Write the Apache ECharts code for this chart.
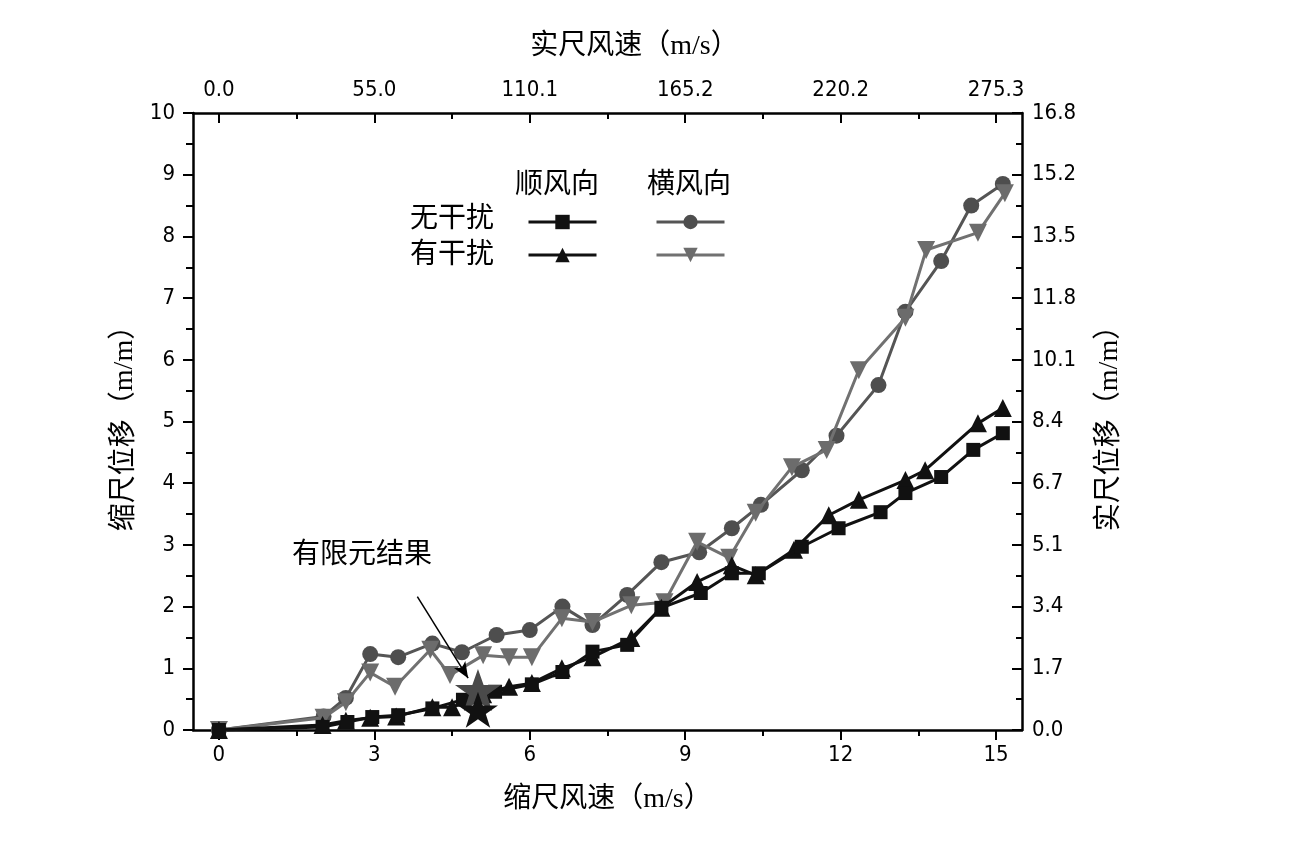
<!DOCTYPE html>
<html>
<head>
<meta charset="utf-8">
<script src="https://cdn.jsdelivr.net/npm/echarts@6/dist/echarts.min.js"></script>
<style>
html,body{margin:0;padding:0;background:#fff;}
#chart{width:1296px;height:846px;}
</style>
</head>
<body>
<div id="chart"></div>
<script>
// ---- data ----
var bottomMajorTicks = [0, 3, 6, 9, 12, 15];
var bottomMinorTicks = [1.5, 4.5, 7.5, 10.5, 13.5];
var topTickLabels = ['0.0', '55.0', '110.1', '165.2', '220.2', '275.3'];
var rightTickLabels = ['0.0', '1.7', '3.4', '5.1', '6.7', '8.4', '10.1', '11.8', '13.5', '15.2', '16.8'];

// 顺风向 无干扰 (squares)
var downNoX = [0, 2.0, 2.48, 2.96, 3.46, 4.12, 4.71, 5.33, 6.04, 6.63, 7.21, 7.88, 8.54, 9.3, 9.9, 10.42, 11.25, 11.96, 12.77, 13.25, 13.94, 14.56, 15.13];
var downNoY = [0, 0.05, 0.13, 0.21, 0.24, 0.35, 0.49, 0.62, 0.74, 0.94, 1.27, 1.38, 1.98, 2.22, 2.54, 2.54, 2.97, 3.27, 3.53, 3.84, 4.10, 4.54, 4.81];
// 顺风向 有干扰 (triangles)
var downYesX = [0, 2.0, 2.45, 2.92, 3.42, 4.12, 4.5, 5.1, 5.6, 6.04, 6.62, 7.21, 7.96, 8.54, 9.23, 9.9, 10.36, 11.1, 11.77, 12.35, 13.25, 13.63, 14.65, 15.13];
var downYesY = [0, 0.08, 0.15, 0.2, 0.22, 0.37, 0.37, 0.58, 0.70, 0.76, 1.0, 1.18, 1.49, 1.98, 2.4, 2.67, 2.51, 2.92, 3.48, 3.73, 4.05, 4.21, 4.97, 5.22];
// 横风向 无干扰 (circles)
var crossNoX = [0, 2.02, 2.45, 2.92, 3.46, 4.12, 4.69, 5.36, 6.0, 6.63, 7.21, 7.88, 8.54, 9.27, 9.9, 10.46, 11.25, 11.92, 12.73, 13.25, 13.94, 14.52, 15.13];
var crossNoY = [0, 0.22, 0.52, 1.23, 1.18, 1.40, 1.26, 1.54, 1.62, 2.0, 1.70, 2.19, 2.72, 2.88, 3.27, 3.65, 4.21, 4.77, 5.59, 6.78, 7.6, 8.5, 8.85];
// 横风向 有干扰 (down triangles)
var crossYesX = [0, 2.02, 2.45, 2.92, 3.4, 4.08, 4.46, 5.1, 5.6, 6.04, 6.62, 7.21, 7.96, 8.6, 9.23, 9.85, 10.36, 11.06, 11.73, 12.35, 13.25, 13.65, 14.65, 15.17];
var crossYesY = [0, 0.2, 0.45, 0.93, 0.70, 1.30, 0.89, 1.21, 1.18, 1.18, 1.81, 1.75, 2.02, 2.07, 3.05, 2.79, 3.52, 4.26, 4.54, 5.83, 6.68, 7.78, 8.06, 8.70];
// 有限元结果 (stars)
var feX = [5.0];
var feDownY = [0.33];
var feCrossY = [0.65];
// annotation arrow (data coords)
var arrowStart = [3.83, 2.16];
var arrowEnd = [4.81, 0.84];

function pairs(xs, ys) { return xs.map(function (x, i) { return [x, ys[i]]; }); }

var NUM_FONT = '"DejaVu Sans Condensed", "Liberation Sans Narrow", "Liberation Sans", sans-serif';
var CJK_FONT = '"Liberation Serif", "Noto Sans CJK SC", serif';
var STAR = 'path://M50,0 L61.8,35.1 L98.1,35.1 L68.8,56.7 L79.4,91 L50,70 L20.6,91 L31.2,56.7 L1.9,35.1 L38.2,35.1 Z';

var BLACK = '#111111';
var GRAY1 = '#4e4e4e';
var GRAY2 = '#6c6c6c';

var chart = echarts.init(document.getElementById('chart'), null, { renderer: 'canvas' });

var axisLineStyle = { color: '#000', width: 2.5 };

function legendItem(name, left, top) {
  return {
    data: [name], left: left, top: top, itemWidth: 68, itemHeight: 18, padding: 0,
    selectedMode: false, lineStyle: { width: 3 }, formatter: function () { return ''; }
  };
}

var option = {
  backgroundColor: '#fff',
  animation: false,
  grid: { left: 193, right: 274, top: 113, bottom: 116, containLabel: false },
  xAxis: [
    {
      type: 'value', position: 'bottom', min: -0.5, max: 15.5,
      axisLine: { show: true, onZero: false, lineStyle: axisLineStyle },
      axisTick: { show: true, inside: false, length: 10, lineStyle: { color: '#000', width: 2 }, customValues: bottomMajorTicks },
      axisLabel: { show: true, customValues: bottomMajorTicks, margin: 14, color: '#000', fontSize: 22, fontFamily: NUM_FONT },
      splitLine: { show: false },
      name: '缩尺风速（m/s）', nameLocation: 'middle', nameGap: 56,
      nameTextStyle: { fontSize: 28, color: '#000', fontFamily: CJK_FONT }
    },
    {
      type: 'value', position: 'bottom', min: -0.5, max: 15.5,
      axisLine: { show: false, onZero: false },
      axisTick: { show: true, inside: false, length: 6, lineStyle: { color: '#000', width: 2 }, customValues: bottomMinorTicks },
      axisLabel: { show: false },
      splitLine: { show: false }
    },
    {
      type: 'value', position: 'top', min: -0.5, max: 15.5,
      axisLine: { show: true, onZero: false, lineStyle: axisLineStyle },
      axisTick: { show: true, inside: true, length: 10, lineStyle: { color: '#000', width: 2 }, customValues: bottomMajorTicks },
      axisLabel: {
        show: true, customValues: bottomMajorTicks, margin: 12, color: '#000', fontSize: 22, fontFamily: NUM_FONT,
        formatter: function (v) { return topTickLabels[Math.round(v / 3)]; }
      },
      splitLine: { show: false },
      name: '实尺风速（m/s）', nameLocation: 'middle', nameGap: 52,
      nameTextStyle: { fontSize: 28, color: '#000', fontFamily: CJK_FONT, padding: [0, 0, 0, 54] }
    },
    {
      type: 'value', position: 'top', min: -0.5, max: 15.5,
      axisLine: { show: false, onZero: false },
      axisTick: { show: true, inside: true, length: 6, lineStyle: { color: '#000', width: 2 }, customValues: bottomMinorTicks },
      axisLabel: { show: false },
      splitLine: { show: false }
    }
  ],
  yAxis: [
    {
      type: 'value', position: 'left', min: 0, max: 10, interval: 1,
      axisLine: { show: true, onZero: false, lineStyle: axisLineStyle },
      axisTick: { show: true, inside: false, length: 10, lineStyle: { color: '#000', width: 2 } },
      minorTick: { show: true, splitNumber: 2, length: 7, lineStyle: { color: '#000', width: 2 } },
      axisLabel: { show: true, margin: 18, color: '#000', fontSize: 22, fontFamily: NUM_FONT },
      splitLine: { show: false },
      name: '缩尺位移（m/m）', nameLocation: 'middle', nameGap: 54, nameRotate: 90,
      nameTextStyle: { fontSize: 28, color: '#000', fontFamily: CJK_FONT }
    },
    {
      type: 'value', position: 'right', min: 0, max: 10, interval: 1,
      axisLine: { show: true, onZero: false, lineStyle: axisLineStyle },
      axisTick: { show: true, inside: true, length: 10, lineStyle: { color: '#000', width: 2 } },
      minorTick: { show: true, splitNumber: 2, length: 6, lineStyle: { color: '#000', width: 2 } },
      axisLabel: {
        show: true, margin: 10, color: '#000', fontSize: 22, fontFamily: NUM_FONT,
        formatter: function (v) { return rightTickLabels[Math.round(v)]; }
      },
      splitLine: { show: false },
      name: '实尺位移（m/m）', nameLocation: 'middle', nameGap: 74, nameRotate: 90,
      nameTextStyle: { fontSize: 28, color: '#000', fontFamily: CJK_FONT }
    }
  ],
  legend: [
    legendItem('顺风向-无干扰', 527, 213),
    legendItem('顺风向-有干扰', 527, 246),
    legendItem('横风向-无干扰', 655, 213),
    legendItem('横风向-有干扰', 655, 246)
  ],
  graphic: [
    { type: 'text', left: 515, top: 168, style: { text: '顺风向', font: '28px "Noto Sans CJK SC"', fill: '#000' } },
    { type: 'text', left: 647, top: 168, style: { text: '横风向', font: '28px "Noto Sans CJK SC"', fill: '#000' } },
    { type: 'text', left: 410, top: 202, style: { text: '无干扰', font: '28px "Noto Sans CJK SC"', fill: '#000' } },
    { type: 'text', left: 410, top: 238, style: { text: '有干扰', font: '28px "Noto Sans CJK SC"', fill: '#000' } },
    { type: 'text', left: 292, top: 538, style: { text: '有限元结果', font: '28px "Noto Sans CJK SC"', fill: '#000' } }
  ],
  series: [
    {
      name: '横风向-无干扰', type: 'line', data: pairs(crossNoX, crossNoY),
      symbol: 'circle', symbolSize: 16,
      lineStyle: { color: '#555555', width: 3 }, itemStyle: { color: GRAY1 }, z: 2
    },
    {
      name: '横风向-有干扰', type: 'line', data: pairs(crossYesX, crossYesY),
      symbol: 'triangle', symbolRotate: 180, symbolSize: 18,
      lineStyle: { color: '#717171', width: 3 }, itemStyle: { color: GRAY2 }, z: 3
    },
    {
      name: '顺风向-有干扰', type: 'line', data: pairs(downYesX, downYesY),
      symbol: 'triangle', symbolSize: 18,
      lineStyle: { color: BLACK, width: 3 }, itemStyle: { color: BLACK }, z: 4
    },
    {
      name: '顺风向-无干扰', type: 'line', data: pairs(downNoX, downNoY),
      symbol: 'rect', symbolSize: 14,
      lineStyle: { color: BLACK, width: 3 }, itemStyle: { color: BLACK }, z: 5
    },
    {
      name: '有限元-横风向', type: 'scatter', data: pairs(feX, feCrossY),
      symbol: STAR, symbolSize: [46, 42], itemStyle: { color: '#4a4a4a', opacity: 1 }, zlevel: 1, z: 10
    },
    {
      name: '有限元-顺风向', type: 'scatter', data: pairs(feX, feDownY),
      symbol: STAR, symbolSize: [40, 36], itemStyle: { color: BLACK, opacity: 1 }, zlevel: 1, z: 11,
      markLine: {
        silent: true, symbol: ['none', 'arrow'], symbolSize: [10, 16],
        lineStyle: { color: '#000', width: 1.5, type: 'solid' },
        label: { show: false },
        data: [[{ coord: arrowStart }, { coord: arrowEnd }]]
      }
    }
  ]
};
chart.setOption(option);
</script>
</body>
</html>
